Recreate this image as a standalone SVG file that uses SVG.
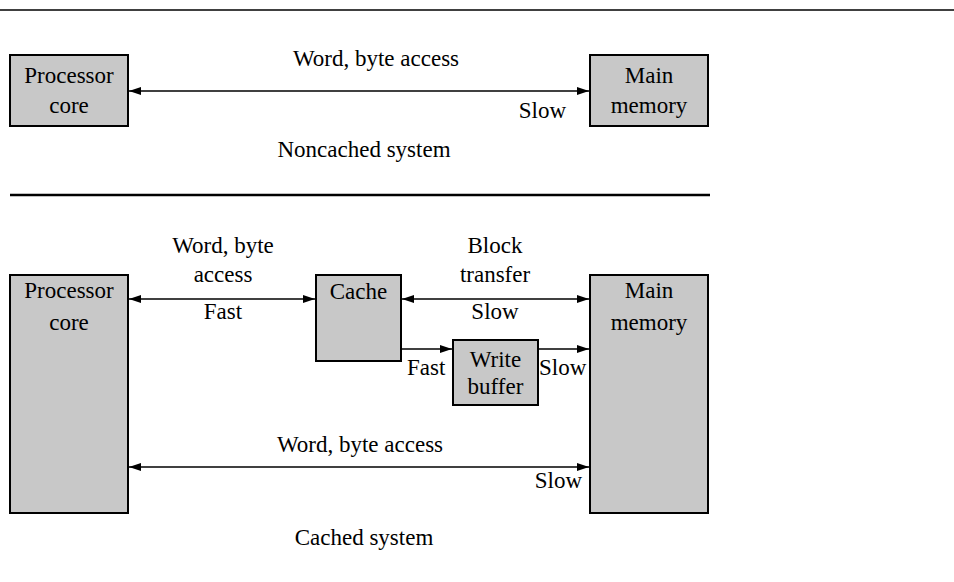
<svg xmlns="http://www.w3.org/2000/svg" width="954" height="582" viewBox="0 0 954 582">
<style>
.box{fill:#c8c8c8;stroke:#000;stroke-width:2}
.t{font-family:"Liberation Serif","Times New Roman",serif;font-size:23px;fill:#000}
.m{text-anchor:middle}
.e{text-anchor:end}
.c{stroke:#000;stroke-width:1.4;fill:none}
</style>
<defs>
<marker id="ah" viewBox="0 0 12 8" refX="12" refY="4" markerWidth="12" markerHeight="8" markerUnits="userSpaceOnUse" orient="auto-start-reverse">
<path d="M0,0 L12,4 L0,8 z" fill="#000"/>
</marker>
</defs>
<line x1="0" y1="10" x2="954" y2="10" stroke="#000" stroke-width="1.5"/>
<line x1="10" y1="195" x2="710" y2="195" stroke="#000" stroke-width="2.5"/>

<g id="proc1"><rect class="box" x="10" y="55" width="118" height="71"/><text class="t m" x="69" y="83">Processor</text><text class="t m" x="69" y="113">core</text></g>
<g id="mem1"><rect class="box" x="590" y="55" width="118" height="71"/><text class="t m" x="649" y="83">Main</text><text class="t m" x="649" y="113">memory</text></g>

<g id="proc2"><rect class="box" x="10" y="275" width="118" height="238"/><text class="t m" x="69" y="298">Processor</text><text class="t m" x="69" y="330">core</text></g>
<g id="mem2"><rect class="box" x="590" y="275" width="118" height="238"/><text class="t m" x="649" y="298">Main</text><text class="t m" x="649" y="330">memory</text></g>
<g id="cache"><rect class="box" x="316" y="275" width="85" height="86"/><text class="t m" x="358.5" y="299">Cache</text></g>
<g id="wbuf"><rect class="box" x="453" y="340" width="85" height="65"/><text class="t m" x="495.5" y="367">Write</text><text class="t m" x="495.5" y="394">buffer</text></g>

<g id="connectors">
<line class="c" x1="129" y1="91" x2="589" y2="91" marker-start="url(#ah)" marker-end="url(#ah)"/>
<line class="c" x1="129" y1="299" x2="315" y2="299" marker-start="url(#ah)" marker-end="url(#ah)"/>
<line class="c" x1="402" y1="299" x2="589" y2="299" marker-start="url(#ah)" marker-end="url(#ah)"/>
<line class="c" x1="401" y1="349" x2="452" y2="349" marker-end="url(#ah)"/>
<line class="c" x1="538" y1="349" x2="589" y2="349" marker-end="url(#ah)"/>
<line class="c" x1="129" y1="467" x2="589" y2="467" marker-start="url(#ah)" marker-end="url(#ah)"/>
</g>

<g id="labels">
<text class="t m" x="376" y="66">Word, byte access</text>
<text class="t e" x="566" y="118">Slow</text>
<text class="t m" x="364" y="157">Noncached system</text>
<text class="t m" x="223" y="253">Word, byte</text>
<text class="t m" x="223" y="282">access</text>
<text class="t m" x="223" y="319">Fast</text>
<text class="t m" x="495" y="253">Block</text>
<text class="t m" x="495" y="282">transfer</text>
<text class="t m" x="495" y="319">Slow</text>
<text class="t" x="407" y="375">Fast</text>
<text class="t" x="539" y="375">Slow</text>
<text class="t m" x="360" y="452">Word, byte access</text>
<text class="t e" x="582" y="488">Slow</text>
<text class="t m" x="364" y="545">Cached system</text>
</g>
</svg>
